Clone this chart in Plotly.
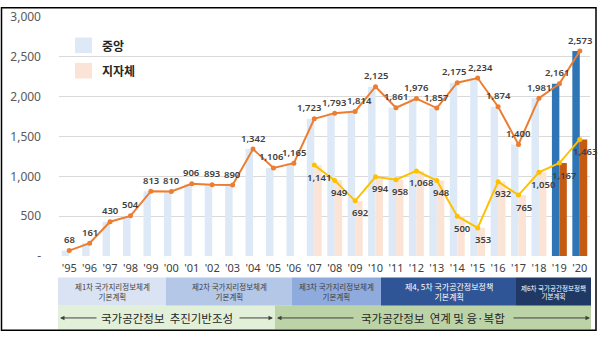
import plotly.graph_objects as go

# ---------------- data ----------------
years = ["'95", "'96", "'97", "'98", "'99", "'00", "'01", "'02", "'03", "'04", "'05", "'06", "'07",
         "'08", "'09", "'10", "'11", "'12", "'13", "'14", "'15", "'16", "'17", "'18", "'19", "'20"]
central = [68, 161, 430, 504, 813, 810, 906, 893, 890, 1342, 1106, 1165, 1723,
           1793, 1814, 2125, 1861, 1976, 1857, 2175, 2234, 1874, 1400, 1981, 2161, 2573]
local_years = ["'07", "'08", "'09", "'10", "'11", "'12", "'13", "'14", "'15", "'16", "'17", "'18", "'19", "'20"]
local = [1141, 949, 692, 994, 958, 1068, 948, 500, 353, 932, 765, 1050, 1167, 1463]
highlight_years = ["'19", "'20"]
series_names = ["중앙", "지자체"]
plan_labels = ["제1차 국가지리정보체계<br>기본계획", "제2차 국가지리정보체계<br>기본계획",
               "제3차 국가지리정보체계<br>기본계획", "제4, 5차 국가공간정보정책<br>기본계획",
               "제6차 국가공간정보정책<br>기본계획"]
phase_labels = ["국가공간정보  추진기반조성", "국가공간정보  연계 및 융·복합"]
y_ticks = [0, 500, 1000, 1500, 2000, 2500, 3000]

# ---------------- styles ----------------
C_LIGHT = "#dde9f6"
C_DARK = "#2e75b6"
L_LIGHT = "#fbe4d5"
L_DARK = "#c55a11"
ORANGE = "#ed7d31"
GOLD = "#ffc000"
TXT = "#404040"
FONT = "Noto Sans"
KFONT = "Noto Sans CJK KR"

W, H = 598, 338
ML, MR, MT, MB = 59, 8, 11, 82
PW, PH = W - ML - MR, H - MT - MB


def px(x):
    return (x - ML) / PW


def py(y):
    return (H - MB - y) / PH


idx = list(range(len(years)))
lidx = [years.index(y) for y in local_years]
label_nudge = {"'05": -2, "'07": -5, "'08": -1, "'09": 4, "'14": -3, "'15": 3, "'19": -2}

fig = go.Figure()
fig.add_trace(go.Bar(x=idx, y=central, name=series_names[0],
                     marker=dict(color=[C_DARK if y in highlight_years else C_LIGHT for y in years],
                                 line=dict(width=0)),
                     showlegend=False, hoverinfo="skip"))
fig.add_trace(go.Bar(x=lidx, y=local, name=series_names[1],
                     marker=dict(color=[L_DARK if y in highlight_years else L_LIGHT for y in local_years],
                                 line=dict(width=0)),
                     showlegend=False, hoverinfo="skip"))
fig.add_trace(go.Scatter(x=idx, y=central, mode="lines+markers",
                         line=dict(color=ORANGE, width=2), marker=dict(color=ORANGE, size=5),
                         showlegend=False, hoverinfo="skip"))
fig.add_trace(go.Scatter(x=lidx, y=local, mode="lines+markers",
                         line=dict(color=GOLD, width=2), marker=dict(color=GOLD, size=5),
                         showlegend=False, hoverinfo="skip"))

annotations = []
for i, v in zip(idx, central):
    annotations.append(dict(x=i, y=v, xref="x", yref="y", text=f"{v:,}", showarrow=False,
                            yshift=11, xshift=label_nudge.get(years[i], 0),
                            font=dict(family=FONT, size=9.5, color=TXT, weight=600)))
for i, v in zip(lidx, local):
    annotations.append(dict(x=i, y=v, xref="x", yref="y", text=f"{v:,}", showarrow=False,
                            yshift=-12, xshift=5, font=dict(family=FONT, size=9.5, color=TXT, weight=600)))

shapes = []
# legend
for (y0, y1), col, name, ty in [((32, 48), C_LIGHT, series_names[0], 40), ((58, 74), L_LIGHT, series_names[1], 66)]:
    shapes.append(dict(type="rect", xref="paper", yref="paper", x0=px(75), x1=px(92), y0=py(y1), y1=py(y0),
                       fillcolor=col, line=dict(width=0), layer="above"))
    annotations.append(dict(x=px(100), y=py(ty), xref="paper", yref="paper", text=name, showarrow=False,
                            xanchor="left", yanchor="middle",
                            font=dict(family=KFONT, size=12, color="#262626", weight="bold")))

# plan boxes
box_edges = [58, 166, 292, 381, 516, 591]
box_fill = ["#dae3f3", "#b4c7e7", "#8faadc", "#2f5597", "#1f3864"]
box_text = [TXT, TXT, TXT, "#ffffff", "#ffffff"]
box_size = [7.5, 7.5, 7.5, 8, 6.5]
for k, lab in enumerate(plan_labels):
    x0, x1 = box_edges[k], box_edges[k + 1]
    shapes.append(dict(type="rect", xref="paper", yref="paper", x0=px(x0), x1=px(x1), y0=py(307), y1=py(278),
                       fillcolor=box_fill[k], line=dict(width=0)))
    annotations.append(dict(x=px((x0 + x1) / 2), y=py(292.5), xref="paper", yref="paper", text=lab,
                            showarrow=False, xanchor="center", yanchor="middle",
                            font=dict(family=KFONT, size=box_size[k], color=box_text[k])))

# phase bands
band_edges = [58, 275, 591]
band_fill = ["#e2f0d9", "#bcd3a8"]
text_center = [167, 433]
for k, lab in enumerate(phase_labels):
    x0, x1 = band_edges[k], band_edges[k + 1]
    shapes.append(dict(type="rect", xref="paper", yref="paper", x0=px(x0), x1=px(x1), y0=py(331), y1=py(307),
                       fillcolor=band_fill[k], line=dict(width=0)))
    annotations.append(dict(x=px(text_center[k]), y=py(319.5), xref="paper", yref="paper", text=lab,
                            showarrow=False, xanchor="center", yanchor="middle",
                            font=dict(family=KFONT, size=11.5, color="#262626")))

# arrows (head position, tail offset)
for head, tail in [(60, 98), (273, 238), (277, 355), (590, 512)]:
    annotations.append(dict(x=px(head), y=py(319.5), xref="paper", yref="paper", text="",
                            showarrow=True, ax=tail - head, ay=0, arrowhead=2, arrowsize=0.9,
                            arrowwidth=1, arrowcolor="#404040"))

# outer border
shapes.append(dict(type="rect", xref="paper", yref="paper", x0=px(1.5), x1=px(596), y0=py(332), y1=py(1.5),
                   line=dict(color="#000000", width=1.5), fillcolor="rgba(0,0,0,0)"))

fig.update_layout(
    width=W, height=H,
    margin=dict(l=ML, r=MR, t=MT, b=MB, pad=0),
    paper_bgcolor="white", plot_bgcolor="white",
    barmode="group", bargap=0.27, bargroupgap=0,
    shapes=shapes, annotations=annotations,
    xaxis=dict(range=[-0.5, len(years) - 0.5], tickvals=idx, ticktext=years, showgrid=False,
               zeroline=False, showline=False, ticks="", ticklabelstandoff=4,
               tickfont=dict(family=FONT, size=11, color=TXT)),
    yaxis=dict(range=[0, 3000], tickvals=y_ticks,
               ticktext=["-" if t == 0 else f"{t:,}" for t in y_ticks],
               showgrid=True, gridcolor="#d9d9d9", gridwidth=1, zeroline=False, showline=False,
               ticks="", ticklabelstandoff=17,
               tickfont=dict(family=FONT, size=12, color="#595959")),
)

fig.write_html("out.html")
